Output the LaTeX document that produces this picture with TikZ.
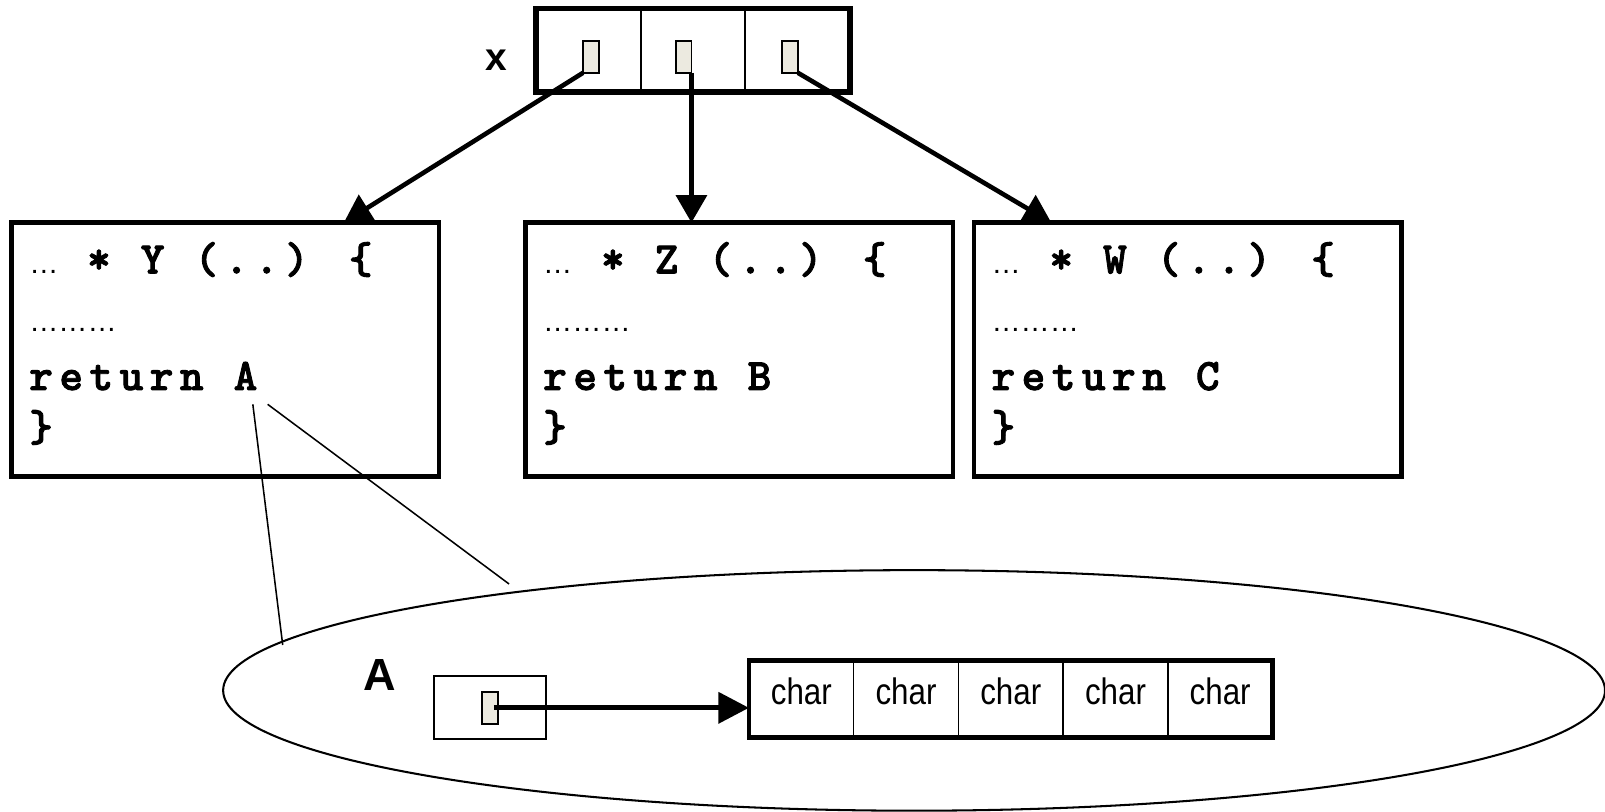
\documentclass[tikz,border=0pt]{standalone}
\usepackage{fontspec}
\setmainfont{Liberation Sans}
\newfontfamily\codefont{lmmonolt10-bold}[Extension=.otf, LetterSpace=14.4, FakeBold=2]
\newfontfamily\charfont{Liberation Sans}[FakeStretch=0.85]
\usetikzlibrary{arrows.meta, calc, shapes.geometric}
\definecolor{ptrfill}{RGB}{236,234,224}
\newcommand\codesize{\codefont\fontsize{44}{44}\selectfont}

\tikzset{
  funcbox/.style={draw, line width=4.5pt, fill=white, minimum width=417.6pt, minimum height=248.2pt, inner sep=0pt, outer sep=0pt},
  cell/.style={draw, line width=2pt, minimum width=102.3pt, minimum height=81.4pt, inner sep=0pt, outer sep=0pt},
  charcell/.style={draw, line width=1.5pt, minimum width=102.3pt, minimum height=75pt, inner sep=0pt, outer sep=0pt},
  ptr/.style={draw, line width=1.8pt, fill=ptrfill, minimum width=15.5pt, minimum height=31.5pt, inner sep=0pt, outer sep=0pt},
  bigarrow/.style={line width=4.5pt, -{Triangle[length=27pt, width=30pt]}},
  codeline/.style={anchor=base west, inner sep=0pt, font=\codesize},
  dotsline/.style={anchor=base west, inner sep=0pt, font=\fontsize{28.5}{28.5}\selectfont},
}

\begin{document}
\begin{tikzpicture}[x=1pt, y=-1pt]
\useasboundingbox (0,0) rectangle (1568,793);

% array x: three pointer cells
\foreach \i/\cx in {1/574.75, 2/677.05, 3/779.35}
  \node[cell] (xc\i) at (\cx,48.9) {};
\draw[line width=5.5pt] (xc1.north west) rectangle (xc3.south east);
\node[anchor=base west, inner sep=0pt, font=\bfseries\fontsize{38}{38}\selectfont] (xname) at (474,68.4) {x};

\node[ptr] (sq1) at (577.3,55.4) {};
\node[ptr] (sq2) at (667.75,55.4) {};
\node[ptr] (sq3) at (771.8,55.4) {};

% the three functions
\foreach \nm/\cx/\fn/\rv in {ybox/220.2/Y/A, zbox/722.3/Z/B, wbox/1160.3/W/C} {
  \node[funcbox] (\nm) at (\cx,341.6) {};
  \node[dotsline] (\nm-sig) at ($(\nm.north west)+(17,49.5)$) {…\hspace{28pt}{\codesize * \fn{} (..) \{}};
  \node[dotsline] (\nm-body) at ($(\nm.north west)+(17,106.5)$) {………};
  \node[codeline] (\nm-ret) at ($(\nm.north west)+(17,163.5)$) {return \rv};
  \node[codeline] (\nm-end) at ($(\nm.north west)+(17,213.5)$) {\}};
}

% pointers to the functions
\draw[bigarrow] (sq1.south west) -- ($(ybox.north west)!0.777!(ybox.north east)$);
\draw[bigarrow] (sq2.south east) -- (sq2.south east |- zbox.north);
\draw[bigarrow] (sq3.south east) -- ($(wbox.north west)!0.181!(wbox.north east)$);

% close-up of A
\node[draw, ellipse, line width=2pt, minimum width=1350pt, minimum height=235pt, inner sep=0pt, outer sep=0pt] (heap) at (893,674.5) {};
\coordinate (zoomL) at ($(ybox-ret.base west)+(218.6,14)$);
\coordinate (zoomR) at ($(ybox-ret.base west)+(233.1,14)$);
\coordinate (zoomTouch) at ($(heap.center)+(-616.8,-44.4)$);
\coordinate (zoomEnd) at (497.3,570.5);
\draw[line width=1.5pt] (zoomL) -- (zoomTouch);
\draw[line width=1.5pt] (zoomR) -- (zoomEnd);

\node[anchor=base west, inner sep=0pt, font=\bfseries\fontsize{44}{44}\selectfont] (aname) at (355,675) {A};
\node[draw, line width=2pt, minimum width=109.5pt, minimum height=62pt, inner sep=0pt, outer sep=0pt] (abox) at (478.75,691) {};
\node[ptr, minimum width=16pt, minimum height=31.6pt] (aptr) at (478.6,691.5) {};

% string of chars
\foreach \i in {1,...,5} {
  \node[charcell] (ch\i) at ({731.7+51.15+(\i-1)*102.3},683) {};
  \node[anchor=base, inner sep=0pt, font=\charfont\fontsize{36}{36}\selectfont] (chl\i) at ($(ch\i.center)+(0,5)$) {char};
}
\draw[line width=4.5pt] (ch1.north west) rectangle (ch5.south east);
\draw[line width=5pt, -{Triangle[length=30pt, width=30pt]}] ($(aptr.center)+(4,0)$) -- (aptr.center -| ch1.west);
\end{tikzpicture}
\end{document}
